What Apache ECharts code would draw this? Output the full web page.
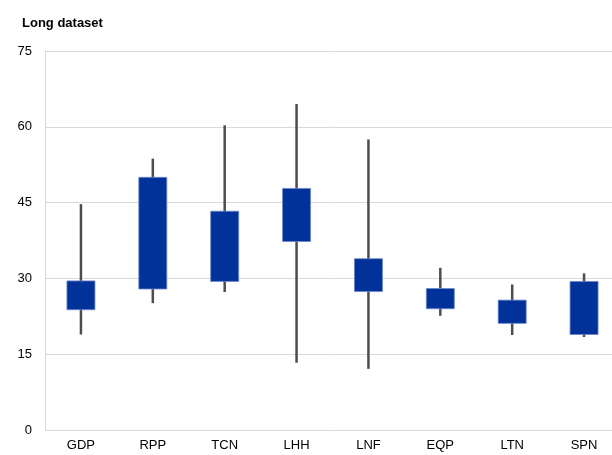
<!DOCTYPE html>
<html>
<head>
<meta charset="utf-8">
<script src="https://cdn.jsdelivr.net/npm/echarts@6/dist/echarts.min.js"></script>
<style>html,body{margin:0;padding:0;background:#fff;overflow:hidden}#main{width:620px;height:455px}</style>
</head>
<body>
<div id="main"></div>
<script>
// categories and values (box bottom, box top, whisker low, whisker high)
var categories = ["GDP", "RPP", "TCN", "LHH", "LNF", "EQP", "LTN", "SPN"];
var boxLow = [23.8, 27.9, 29.4, 37.3, 27.4, 24.0, 21.1, 18.9];
var boxHigh = [29.5, 50.0, 43.3, 47.8, 33.9, 28.0, 25.7, 29.4];
var whiskLow = [18.9, 25.1, 27.3, 13.3, 12.1, 22.6, 18.8, 18.4];
var whiskHigh = [44.7, 53.7, 60.3, 64.5, 57.5, 32.1, 28.8, 31.0];
var yTicks = [0, 15, 30, 45, 60, 75];

var data = [];
for (var i = 0; i < categories.length; i++) {
	data.push([i, boxLow[i], boxHigh[i], whiskLow[i], whiskHigh[i]]);
}

var chart = echarts.init(document.getElementById("main"));
chart.setOption({
	animation: false,
	title: {
		text: "Long dataset", left: 17, top: 12,
		textStyle: {fontFamily: "Liberation Sans", fontSize: 13, fontWeight: "bold", color: "#000"}
	},
	grid: {left: 45, right: 0, top: 51, bottom: 25},
	xAxis: {
		type: "category", data: categories,
		axisLine: {show: false}, axisTick: {show: false},
		axisLabel: {fontFamily: "Liberation Sans", fontSize: 13, color: "#000", margin: 9}
	},
	yAxis: {
		type: "value", min: yTicks[0], max: yTicks[yTicks.length - 1], interval: 15,
		axisLine: {show: true, lineStyle: {color: "#d9d9d9"}}, axisTick: {show: false},
		axisLabel: {fontFamily: "Liberation Sans", fontSize: 13, color: "#000", margin: 13},
		splitLine: {lineStyle: {color: "#d9d9d9"}}
	},
	series: [{
		type: "custom",
		data: data,
		renderItem: function(params, api) {
			var x = api.value(0);
			var pLo = api.coord([x, api.value(1)]);
			var pHi = api.coord([x, api.value(2)]);
			var wLo = api.coord([x, api.value(3)]);
			var wHi = api.coord([x, api.value(4)]);
			var w = 28;
			return {
				type: "group",
				children: [{
					type: "line",
					shape: {x1: wLo[0], y1: wLo[1], x2: wHi[0], y2: wHi[1]},
					style: {stroke: "#4d4d4d", lineWidth: 2.5}
				}, {
					type: "rect",
					shape: {x: pHi[0] - w / 2, y: pHi[1], width: w, height: pLo[1] - pHi[1]},
					style: {fill: "#003299", stroke: "#6f86c9", lineWidth: 0.8}
				}]
			};
		}
	}]
});
</script>
</body>
</html>
